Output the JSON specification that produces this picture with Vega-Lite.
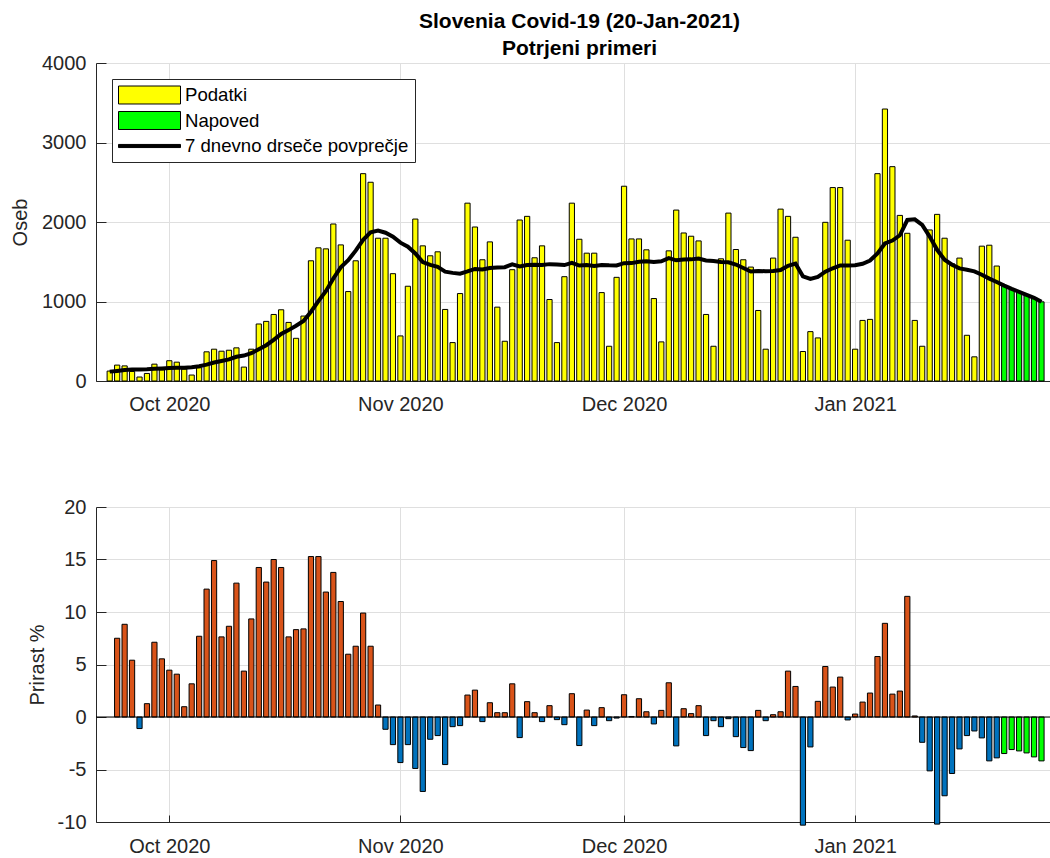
{
  "$schema": "https://vega.github.io/schema/vega-lite/v6.json",
  "padding": {"left": 10, "top": 11, "right": 0, "bottom": 0},
  "background": "#ffffff",
  "title": {
    "text": ["Slovenia Covid-19 (20-Jan-2021)", "Potrjeni primeri"],
    "font": "Liberation Sans",
    "fontSize": 21,
    "fontWeight": "bold",
    "color": "#000000",
    "lineHeight": 27,
    "anchor": "middle",
    "offset": -6,
    "dx": 49
  },
  "config": {
    "font": "Liberation Sans",
    "view": {"stroke": null},
    "axis": {
      "labelFont": "Liberation Sans",
      "labelFontSize": 20,
      "labelColor": "#262626",
      "titleFont": "Liberation Sans",
      "titleFontSize": 20,
      "titleFontWeight": "normal",
      "titleColor": "#262626",
      "domainColor": "#262626",
      "domainWidth": 1,
      "tickColor": "#262626",
      "tickWidth": 1,
      "gridColor": "#dfdfdf",
      "gridWidth": 1
    }
  },
  "resolve": {"scale": {"fill": "independent"}, "legend": {"fill": "independent"}},
  "spacing": 83,
  "datasets": {
    "covid": [
      {"d": "2020-09-23", "n": 125, "ma": 118, "g": null, "s": "Podatki"},
      {"d": "2020-09-24", "n": 200, "ma": 127, "g": 7.5, "s": "Podatki"},
      {"d": "2020-09-25", "n": 190, "ma": 138, "g": 8.83, "s": "Podatki"},
      {"d": "2020-09-26", "n": 120, "ma": 146, "g": 5.41, "s": "Podatki"},
      {"d": "2020-09-27", "n": 50, "ma": 145, "g": -1.1, "s": "Podatki"},
      {"d": "2020-09-28", "n": 95, "ma": 147, "g": 1.27, "s": "Podatki"},
      {"d": "2020-09-29", "n": 212, "ma": 155, "g": 7.12, "s": "Podatki"},
      {"d": "2020-09-30", "n": 140, "ma": 158, "g": 5.54, "s": "Podatki"},
      {"d": "2020-10-01", "n": 255, "ma": 162, "g": 4.46, "s": "Podatki"},
      {"d": "2020-10-02", "n": 237, "ma": 166, "g": 4.08, "s": "Podatki"},
      {"d": "2020-10-03", "n": 150, "ma": 168, "g": 0.98, "s": "Podatki"},
      {"d": "2020-10-04", "n": 75, "ma": 174, "g": 3.16, "s": "Podatki"},
      {"d": "2020-10-05", "n": 167, "ma": 186, "g": 7.69, "s": "Podatki"},
      {"d": "2020-10-06", "n": 367, "ma": 206, "g": 12.18, "s": "Podatki"},
      {"d": "2020-10-07", "n": 400, "ma": 233, "g": 14.9, "s": "Podatki"},
      {"d": "2020-10-08", "n": 375, "ma": 252, "g": 7.63, "s": "Podatki"},
      {"d": "2020-10-09", "n": 387, "ma": 272, "g": 8.64, "s": "Podatki"},
      {"d": "2020-10-10", "n": 417, "ma": 305, "g": 12.75, "s": "Podatki"},
      {"d": "2020-10-11", "n": 175, "ma": 320, "g": 4.37, "s": "Podatki"},
      {"d": "2020-10-12", "n": 400, "ma": 350, "g": 9.34, "s": "Podatki"},
      {"d": "2020-10-13", "n": 717, "ma": 400, "g": 14.24, "s": "Podatki"},
      {"d": "2020-10-14", "n": 750, "ma": 450, "g": 12.85, "s": "Podatki"},
      {"d": "2020-10-15", "n": 837, "ma": 518, "g": 15.0, "s": "Podatki"},
      {"d": "2020-10-16", "n": 896, "ma": 592, "g": 14.24, "s": "Podatki"},
      {"d": "2020-10-17", "n": 737, "ma": 640, "g": 7.63, "s": "Podatki"},
      {"d": "2020-10-18", "n": 537, "ma": 695, "g": 8.32, "s": "Podatki"},
      {"d": "2020-10-19", "n": 817, "ma": 755, "g": 8.39, "s": "Podatki"},
      {"d": "2020-10-20", "n": 1512, "ma": 872, "g": 15.28, "s": "Podatki"},
      {"d": "2020-10-21", "n": 1675, "ma": 1005, "g": 15.28, "s": "Podatki"},
      {"d": "2020-10-22", "n": 1662, "ma": 1130, "g": 11.9, "s": "Podatki"},
      {"d": "2020-10-23", "n": 1975, "ma": 1290, "g": 13.77, "s": "Podatki"},
      {"d": "2020-10-24", "n": 1712, "ma": 1430, "g": 11.0, "s": "Podatki"},
      {"d": "2020-10-25", "n": 1125, "ma": 1520, "g": 5.98, "s": "Podatki"},
      {"d": "2020-10-26", "n": 1512, "ma": 1640, "g": 6.74, "s": "Podatki"},
      {"d": "2020-10-27", "n": 2608, "ma": 1775, "g": 9.9, "s": "Podatki"},
      {"d": "2020-10-28", "n": 2500, "ma": 1870, "g": 6.74, "s": "Podatki"},
      {"d": "2020-10-29", "n": 1796, "ma": 1892, "g": 1.14, "s": "Podatki"},
      {"d": "2020-10-30", "n": 1796, "ma": 1865, "g": -1.17, "s": "Podatki"},
      {"d": "2020-10-31", "n": 1350, "ma": 1815, "g": -2.63, "s": "Podatki"},
      {"d": "2020-11-01", "n": 567, "ma": 1740, "g": -4.34, "s": "Podatki"},
      {"d": "2020-11-02", "n": 1192, "ma": 1690, "g": -2.63, "s": "Podatki"},
      {"d": "2020-11-03", "n": 2037, "ma": 1605, "g": -4.9, "s": "Podatki"},
      {"d": "2020-11-04", "n": 1700, "ma": 1495, "g": -7.09, "s": "Podatki"},
      {"d": "2020-11-05", "n": 1575, "ma": 1460, "g": -2.12, "s": "Podatki"},
      {"d": "2020-11-06", "n": 1625, "ma": 1435, "g": -1.77, "s": "Podatki"},
      {"d": "2020-11-07", "n": 900, "ma": 1375, "g": -4.53, "s": "Podatki"},
      {"d": "2020-11-08", "n": 483, "ma": 1360, "g": -0.92, "s": "Podatki"},
      {"d": "2020-11-09", "n": 1100, "ma": 1350, "g": -0.82, "s": "Podatki"},
      {"d": "2020-11-10", "n": 2237, "ma": 1378, "g": 2.09, "s": "Podatki"},
      {"d": "2020-11-11", "n": 1937, "ma": 1410, "g": 2.56, "s": "Podatki"},
      {"d": "2020-11-12", "n": 1525, "ma": 1404, "g": -0.44, "s": "Podatki"},
      {"d": "2020-11-13", "n": 1750, "ma": 1422, "g": 1.36, "s": "Podatki"},
      {"d": "2020-11-14", "n": 929, "ma": 1428, "g": 0.41, "s": "Podatki"},
      {"d": "2020-11-15", "n": 500, "ma": 1432, "g": 0.41, "s": "Podatki"},
      {"d": "2020-11-16", "n": 1400, "ma": 1468, "g": 3.16, "s": "Podatki"},
      {"d": "2020-11-17", "n": 2025, "ma": 1442, "g": -1.96, "s": "Podatki"},
      {"d": "2020-11-18", "n": 2071, "ma": 1458, "g": 1.46, "s": "Podatki"},
      {"d": "2020-11-19", "n": 1550, "ma": 1462, "g": 0.41, "s": "Podatki"},
      {"d": "2020-11-20", "n": 1700, "ma": 1458, "g": -0.44, "s": "Podatki"},
      {"d": "2020-11-21", "n": 1025, "ma": 1470, "g": 1.08, "s": "Podatki"},
      {"d": "2020-11-22", "n": 483, "ma": 1466, "g": -0.25, "s": "Podatki"},
      {"d": "2020-11-23", "n": 1312, "ma": 1458, "g": -0.73, "s": "Podatki"},
      {"d": "2020-11-24", "n": 2237, "ma": 1485, "g": 2.22, "s": "Podatki"},
      {"d": "2020-11-25", "n": 1783, "ma": 1452, "g": -2.72, "s": "Podatki"},
      {"d": "2020-11-26", "n": 1608, "ma": 1460, "g": 0.66, "s": "Podatki"},
      {"d": "2020-11-27", "n": 1608, "ma": 1448, "g": -0.82, "s": "Podatki"},
      {"d": "2020-11-28", "n": 1112, "ma": 1460, "g": 0.89, "s": "Podatki"},
      {"d": "2020-11-29", "n": 437, "ma": 1455, "g": -0.35, "s": "Podatki"},
      {"d": "2020-11-30", "n": 1304, "ma": 1453, "g": -0.1, "s": "Podatki"},
      {"d": "2020-12-01", "n": 2450, "ma": 1482, "g": 2.12, "s": "Podatki"},
      {"d": "2020-12-02", "n": 1787, "ma": 1483, "g": 0.05, "s": "Podatki"},
      {"d": "2020-12-03", "n": 1787, "ma": 1500, "g": 1.74, "s": "Podatki"},
      {"d": "2020-12-04", "n": 1650, "ma": 1507, "g": 0.5, "s": "Podatki"},
      {"d": "2020-12-05", "n": 1037, "ma": 1497, "g": -0.66, "s": "Podatki"},
      {"d": "2020-12-06", "n": 492, "ma": 1506, "g": 0.63, "s": "Podatki"},
      {"d": "2020-12-07", "n": 1637, "ma": 1545, "g": 3.26, "s": "Podatki"},
      {"d": "2020-12-08", "n": 2150, "ma": 1518, "g": -2.75, "s": "Podatki"},
      {"d": "2020-12-09", "n": 1862, "ma": 1527, "g": 0.79, "s": "Podatki"},
      {"d": "2020-12-10", "n": 1821, "ma": 1530, "g": 0.32, "s": "Podatki"},
      {"d": "2020-12-11", "n": 1762, "ma": 1540, "g": 1.08, "s": "Podatki"},
      {"d": "2020-12-12", "n": 837, "ma": 1516, "g": -1.77, "s": "Podatki"},
      {"d": "2020-12-13", "n": 437, "ma": 1510, "g": -0.35, "s": "Podatki"},
      {"d": "2020-12-14", "n": 1537, "ma": 1497, "g": -0.92, "s": "Podatki"},
      {"d": "2020-12-15", "n": 2112, "ma": 1494, "g": -0.16, "s": "Podatki"},
      {"d": "2020-12-16", "n": 1654, "ma": 1465, "g": -1.87, "s": "Podatki"},
      {"d": "2020-12-17", "n": 1525, "ma": 1422, "g": -2.91, "s": "Podatki"},
      {"d": "2020-12-18", "n": 1433, "ma": 1378, "g": -3.2, "s": "Podatki"},
      {"d": "2020-12-19", "n": 887, "ma": 1385, "g": 0.63, "s": "Podatki"},
      {"d": "2020-12-20", "n": 400, "ma": 1380, "g": -0.35, "s": "Podatki"},
      {"d": "2020-12-21", "n": 1546, "ma": 1383, "g": 0.22, "s": "Podatki"},
      {"d": "2020-12-22", "n": 2162, "ma": 1395, "g": 0.5, "s": "Podatki"},
      {"d": "2020-12-23", "n": 2071, "ma": 1450, "g": 4.37, "s": "Podatki"},
      {"d": "2020-12-24", "n": 1808, "ma": 1478, "g": 2.91, "s": "Podatki"},
      {"d": "2020-12-25", "n": 371, "ma": 1317, "g": -10.3, "s": "Podatki"},
      {"d": "2020-12-26", "n": 621, "ma": 1283, "g": -2.85, "s": "Podatki"},
      {"d": "2020-12-27", "n": 542, "ma": 1310, "g": 1.49, "s": "Podatki"},
      {"d": "2020-12-28", "n": 1996, "ma": 1375, "g": 4.81, "s": "Podatki"},
      {"d": "2020-12-29", "n": 2433, "ma": 1418, "g": 2.85, "s": "Podatki"},
      {"d": "2020-12-30", "n": 2433, "ma": 1454, "g": 3.8, "s": "Podatki"},
      {"d": "2020-12-31", "n": 1771, "ma": 1452, "g": -0.28, "s": "Podatki"},
      {"d": "2021-01-01", "n": 400, "ma": 1455, "g": 0.28, "s": "Podatki"},
      {"d": "2021-01-02", "n": 762, "ma": 1475, "g": 1.42, "s": "Podatki"},
      {"d": "2021-01-03", "n": 775, "ma": 1515, "g": 2.28, "s": "Podatki"},
      {"d": "2021-01-04", "n": 2608, "ma": 1605, "g": 5.76, "s": "Podatki"},
      {"d": "2021-01-05", "n": 3421, "ma": 1730, "g": 8.92, "s": "Podatki"},
      {"d": "2021-01-06", "n": 2696, "ma": 1767, "g": 2.18, "s": "Podatki"},
      {"d": "2021-01-07", "n": 2083, "ma": 1833, "g": 2.47, "s": "Podatki"},
      {"d": "2021-01-08", "n": 1858, "ma": 2025, "g": 11.49, "s": "Podatki"},
      {"d": "2021-01-09", "n": 762, "ma": 2033, "g": 0.1, "s": "Podatki"},
      {"d": "2021-01-10", "n": 437, "ma": 1963, "g": -2.41, "s": "Podatki"},
      {"d": "2021-01-11", "n": 1900, "ma": 1817, "g": -5.13, "s": "Podatki"},
      {"d": "2021-01-12", "n": 2096, "ma": 1650, "g": -10.2, "s": "Podatki"},
      {"d": "2021-01-13", "n": 1796, "ma": 1525, "g": -7.5, "s": "Podatki"},
      {"d": "2021-01-14", "n": 1475, "ma": 1462, "g": -5.38, "s": "Podatki"},
      {"d": "2021-01-15", "n": 1546, "ma": 1417, "g": -3.04, "s": "Podatki"},
      {"d": "2021-01-16", "n": 575, "ma": 1400, "g": -1.77, "s": "Podatki"},
      {"d": "2021-01-17", "n": 304, "ma": 1379, "g": -1.33, "s": "Podatki"},
      {"d": "2021-01-18", "n": 1696, "ma": 1337, "g": -1.99, "s": "Podatki"},
      {"d": "2021-01-19", "n": 1708, "ma": 1288, "g": -4.18, "s": "Podatki"},
      {"d": "2021-01-20", "n": 1446, "ma": 1246, "g": -3.89, "s": "Podatki"},
      {"d": "2021-01-21", "n": 1200, "ma": 1200, "g": -3.48, "s": "Napoved"},
      {"d": "2021-01-22", "n": 1158, "ma": 1158, "g": -3.1, "s": "Napoved"},
      {"d": "2021-01-23", "n": 1121, "ma": 1121, "g": -3.23, "s": "Napoved"},
      {"d": "2021-01-24", "n": 1083, "ma": 1083, "g": -3.42, "s": "Napoved"},
      {"d": "2021-01-25", "n": 1046, "ma": 1046, "g": -3.8, "s": "Napoved"},
      {"d": "2021-01-26", "n": 996, "ma": 996, "g": -4.18, "s": "Napoved"}
    ]
  },
  "vconcat": [
    {
      "width": 954,
      "height": 318,
      "data": {"name": "covid"},
      "layer": [
        {
          "mark": {"type": "bar", "size": 5.2, "stroke": "#000000", "strokeWidth": 1},
          "encoding": {
            "x": {
              "field": "d",
              "type": "temporal",
              "scale": {
                "type": "utc",
                "domain": [
                  {"year": 2020, "month": 9, "date": 21, "hours": 20, "utc": true},
                  {"year": 2021, "month": 1, "date": 26, "hours": 11, "minutes": 20, "utc": true}
                ]
              },
              "axis": {
                "title": null,
                "format": "%b %Y",
                "values": [
                  {"year": 2020, "month": 10, "date": 1, "utc": true},
                  {"year": 2020, "month": 11, "date": 1, "utc": true},
                  {"year": 2020, "month": 12, "date": 1, "utc": true},
                  {"year": 2021, "month": 1, "date": 1, "utc": true}
                ],
                "grid": true,
                "tickSize": -7,
                "labelPadding": 20
              }
            },
            "y": {
              "field": "n",
              "type": "quantitative",
              "scale": {"domain": [0, 4000]},
              "axis": {
                "title": "Oseb",
                "values": [0, 1000, 2000, 3000, 4000],
                "labelExpr": "'' + datum.value",
                "grid": true,
                "tickSize": -10,
                "labelPadding": 20,
                "titlePadding": 11
              }
            },
            "fill": {
              "field": "s",
              "type": "nominal",
              "scale": {
                "domain": ["Podatki", "Napoved", "7 dnevno drseče povprečje"],
                "range": ["#ffff00", "#00ff00", "#000000"]
              },
              "legend": {
                "title": null,
                "orient": "top-left",
                "offset": 16,
                "direction": "vertical",
                "symbolType": "M-1,-0.29H1V0.29H-1Z",
                "symbolSize": 3844,
                "symbolStrokeColor": "#000000",
                "symbolStrokeWidth": 1,
                "clipHeight": 20,
                "rowPadding": 5.5,
                "labelFont": "Liberation Sans",
                "labelFontSize": 18.6,
                "labelColor": "#000000",
                "labelOffset": 4,
                "labelLimit": 0,
                "padding": 6,
                "strokeColor": "#262626",
                "fillColor": "#ffffff",
                "cornerRadius": 0,
                "encode": {
                  "symbols": {
                    "update": {
                      "shape": {"signal": "datum.value === '7 dnevno drseče povprečje' ? 'M-1,-0.05H1V0.05H-1Z' : 'M-1,-0.29H1V0.29H-1Z'"}
                    }
                  }
                }
              }
            }
          }
        },
        {
          "mark": {"type": "line", "color": "#000000", "strokeWidth": 4},
          "encoding": {
            "x": {"field": "d", "type": "temporal"},
            "y": {"field": "ma", "type": "quantitative"}
          }
        }
      ]
    },
    {
      "width": 954,
      "height": 315,
      "layer": [
        {
          "data": {"name": "covid"},
          "transform": [{"filter": "isValid(datum.g)"}],
          "mark": {"type": "bar", "size": 5.2, "stroke": "#000000", "strokeWidth": 1},
          "encoding": {
            "x": {
              "field": "d",
              "type": "temporal",
              "scale": {
                "type": "utc",
                "domain": [
                  {"year": 2020, "month": 9, "date": 21, "hours": 20, "utc": true},
                  {"year": 2021, "month": 1, "date": 26, "hours": 11, "minutes": 20, "utc": true}
                ]
              },
              "axis": {
                "title": null,
                "format": "%b %Y",
                "values": [
                  {"year": 2020, "month": 10, "date": 1, "utc": true},
                  {"year": 2020, "month": 11, "date": 1, "utc": true},
                  {"year": 2020, "month": 12, "date": 1, "utc": true},
                  {"year": 2021, "month": 1, "date": 1, "utc": true}
                ],
                "grid": true,
                "tickSize": -7,
                "labelPadding": 21.5
              }
            },
            "y": {
              "field": "g",
              "type": "quantitative",
              "scale": {"domain": [-10, 20]},
              "axis": {
                "title": "Prirast %",
                "values": [-10, -5, 0, 5, 10, 15, 20],
                "labelExpr": "'' + datum.value",
                "grid": true,
                "tickSize": -10,
                "labelPadding": 20,
                "titlePadding": 10
              }
            },
            "fill": {
              "condition": [
                {"test": "datum.s === 'Napoved'", "value": "#00ff00"},
                {"test": "datum.g < 0", "value": "#0072bd"}
              ],
              "value": "#d95319"
            }
          }
        },
        {
          "data": {"values": [{"zero": 0}]},
          "mark": {"type": "rule", "color": "#000000", "strokeWidth": 1},
          "encoding": {
            "y": {"field": "zero", "type": "quantitative"}
          }
        }
      ]
    }
  ]
}
